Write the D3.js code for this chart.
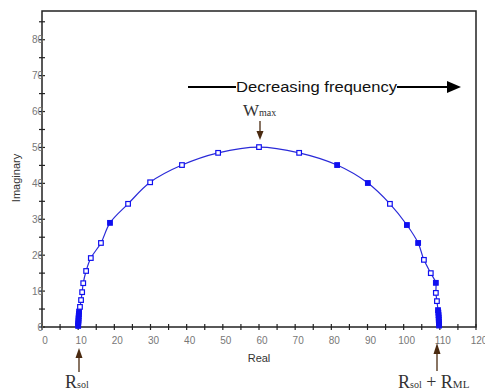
<!DOCTYPE html>
<html><head><meta charset="utf-8">
<script src="https://cdn.jsdelivr.net/npm/d3@7"></script>
<style>body{margin:0;background:#fff}svg{display:block}</style>
</head><body>
<svg id="c" width="485" height="392"></svg>
<script>
const realValues = [10.0,10.0,10.05,10.1,10.1,10.15,10.2,10.25,10.5,10.8,11.1,11.4,12.2,13.5,16.3,18.8,23.8,29.9,38.7,48.7,60.0,71.1,81.6,90.1,96.2,100.9,104.0,105.6,107.5,108.9,108.9,109.2,109.5,109.6,109.65,109.7,109.7,109.75,109.8,109.8];
const imagValues = [0.3,0.8,1.3,1.8,2.4,3.0,3.6,4.3,5.6,7.5,9.7,12.2,15.6,19.2,23.4,29.0,34.3,40.3,45.1,48.5,50.1,48.5,45.1,40.1,34.3,28.4,23.4,18.7,15.0,12.3,9.5,7.2,4.7,4.0,3.3,2.6,2.0,1.4,0.9,0.4];
const markerFilled = [1,1,1,1,1,1,1,1,0,0,0,0,0,0,0,1,0,0,0,0,0,0,1,1,0,1,1,0,0,1,0,0,1,1,1,1,1,1,1,1];
const xTicks = [0,10,20,30,40,50,60,70,80,90,100,110,120];
const yTicks = [0,10,20,30,40,50,60,70,80];

const svg = d3.select("#c");
const L=42,R=476,T=11,B=327;
const x = d3.scaleLinear().domain([0,120]).range([L,R]);
const y = d3.scaleLinear().domain([0,88]).range([B,T]);
const data = realValues.map((v,i)=>({x:v,y:imagValues[i],f:markerFilled[i]}));

// frame
svg.append("rect").attr("x",L).attr("y",T).attr("width",R-L).attr("height",B-T)
  .attr("fill","none").attr("stroke","#222").attr("stroke-width",1.5);

// ticks every 5 (crossing)
const g = svg.append("g");
d3.range(0,121,5).forEach(t=>{
  g.append("line").attr("x1",x(t)).attr("x2",x(t)).attr("y1",B-3).attr("y2",B+3).attr("stroke","#222").attr("stroke-width",1.2);
});
d3.range(0,86,5).forEach(t=>{
  g.append("line").attr("x1",L-3).attr("x2",L+3).attr("y1",y(t)).attr("y2",y(t)).attr("stroke","#222").attr("stroke-width",1.2);
});
g.selectAll(".xl").data(xTicks).join("text").attr("x",d=>x(d)+3).attr("y",B+17)
  .attr("text-anchor","middle").attr("font-family","Arial, Liberation Sans, sans-serif")
  .attr("font-size",10).attr("fill","#777").text(d=>d);
g.selectAll(".yl").data(yTicks).join("text").attr("x",L+1).attr("y",d=>y(d)+3.5)
  .attr("text-anchor","end").attr("font-family","Arial, Liberation Sans, sans-serif")
  .attr("font-size",10).attr("fill","#777").text(d=>d);

svg.append("text").attr("x",259).attr("y",362).attr("text-anchor","middle")
  .attr("font-family","Arial, Liberation Sans, sans-serif").attr("font-size",11).attr("fill","#333").text("Real");
svg.append("text").attr("transform","translate(20,178) rotate(-90)").attr("text-anchor","middle")
  .attr("font-family","Arial, Liberation Sans, sans-serif").attr("font-size",11).attr("fill","#333").text("Imaginary");

// curve
const line = d3.line().x(d=>x(d.x)).y(d=>y(d.y)).curve(d3.curveCatmullRom);
svg.append("path").datum(data).attr("d",line).attr("fill","none").attr("stroke","#2a2ad8").attr("stroke-width",1.2);
svg.selectAll(".m").data(data).join("rect")
  .attr("x",d=>x(d.x)-2.3).attr("y",d=>y(d.y)-2.3).attr("width",4.6).attr("height",4.6)
  .attr("fill",d=>d.f?"#1010f0":"#fff").attr("stroke","#1010f0").attr("stroke-width",1.2);

// decreasing frequency arrow
const ann = svg.append("g");
ann.append("line").attr("x1",188).attr("x2",236).attr("y1",87).attr("y2",87).attr("stroke","#000").attr("stroke-width",2);
ann.append("line").attr("x1",397).attr("x2",450).attr("y1",87).attr("y2",87).attr("stroke","#000").attr("stroke-width",2);
ann.append("path").attr("d","M447,81 L461,87 L447,93 Z").attr("fill","#000");
ann.append("text").attr("x",236).attr("y",92).attr("font-family","Arial, Liberation Sans, sans-serif")
  .attr("font-size",14).attr("fill","#111").attr("textLength",161).attr("lengthAdjust","spacingAndGlyphs").text("Decreasing frequency");

// Wmax
const serif = "Times New Roman, Liberation Serif, serif";
const w = ann.append("text").attr("x",243).attr("y",116).attr("font-family",serif).attr("fill","#333");
w.append("tspan").attr("font-size",17).text("W");
w.append("tspan").attr("font-size",10).text("max");
ann.append("line").attr("x1",260).attr("x2",260).attr("y1",121).attr("y2",133).attr("stroke","#4a2a10").attr("stroke-width",1.3);
ann.append("path").attr("d","M256.5,131 L263.5,131 L260,140 Z").attr("fill","#4a2a10");

// Rsol
ann.append("line").attr("x1",79).attr("x2",79).attr("y1",356).attr("y2",372).attr("stroke","#4a2a10").attr("stroke-width",1.3);
ann.append("path").attr("d","M75.5,358 L82.5,358 L79,348 Z").attr("fill","#4a2a10");
const rs = ann.append("text").attr("x",65).attr("y",388).attr("font-family",serif).attr("fill","#333");
rs.append("tspan").attr("font-size",18).text("R");
rs.append("tspan").attr("font-size",10).text("sol");

// Rsol + RML
ann.append("line").attr("x1",437).attr("x2",437).attr("y1",352).attr("y2",371).attr("stroke","#4a2a10").attr("stroke-width",1.3);
ann.append("path").attr("d","M433.5,354 L440.5,354 L437,343 Z").attr("fill","#4a2a10");
const rr = ann.append("text").attr("x",398).attr("y",388).attr("font-family",serif).attr("fill","#333");
rr.append("tspan").attr("font-size",18).text("R");
rr.append("tspan").attr("font-size",10).text("sol");
rr.append("tspan").attr("font-size",18).text(" + R");
rr.append("tspan").attr("font-size",11).text("ML");
</script>
</body></html>
